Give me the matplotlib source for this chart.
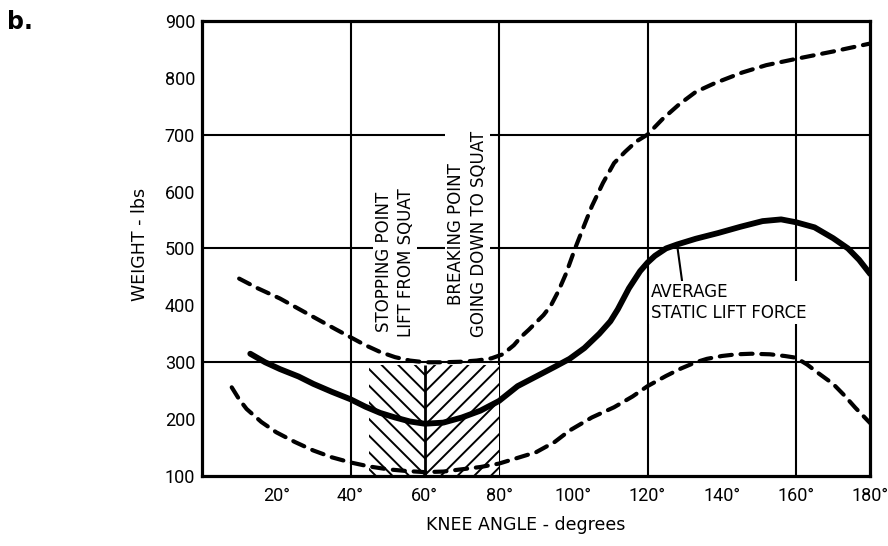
import matplotlib.pyplot as plt
from matplotlib.patches import Rectangle

# knee angle (deg) / weight (lbs)
upper_angle = [10, 15, 21, 26, 31, 36, 40, 44, 48, 52, 56, 60, 65, 70, 74, 78, 81, 84,
               86, 88, 90, 92, 94, 96, 98, 100.5, 102, 105, 108, 111, 114, 117, 120,
               124, 128.5, 133, 138, 145.5, 152, 160, 170, 180]
upper_weight = [447, 430, 412, 394, 376, 358, 344, 330, 318, 309, 303, 300, 300, 301, 303,
                307, 314, 330, 345, 357, 370, 383, 400, 425, 455, 500, 525, 574, 615, 650,
                670, 688, 700, 727, 753, 775, 790, 809, 822, 833, 846, 860]

avg_angle = [13, 17, 21, 26, 30, 35, 40, 44, 48, 52, 56, 60, 65, 70, 75, 80, 85, 90, 95,
             99, 103, 107, 110, 112, 115, 118, 120, 122, 125, 128, 133, 139, 145, 151,
             156, 160, 165, 170, 174, 177, 180]
avg_weight = [315, 300, 288, 275, 262, 248, 235, 222, 211, 203, 196, 192, 194, 203, 215,
              232, 258, 275, 292, 306, 325, 350, 372, 393, 430, 460, 475, 487, 500, 507,
              517, 527, 538, 548, 551, 546, 537, 518, 500, 480, 455]

lower_angle = [8, 10, 12, 16, 20, 25, 30, 35, 40, 45, 50, 55, 60, 65, 70, 75, 80, 85, 90,
               95, 99, 105, 111, 116, 120, 125, 129, 133, 136, 140, 144, 148, 153, 157,
               160, 163, 166, 170, 173, 176, 180]
lower_weight = [256, 235, 218, 195, 177, 160, 145, 133, 124, 117, 112, 109, 107, 108, 112,
                116, 122, 132, 142, 160, 180, 203, 221, 240, 258, 276, 289, 300, 306, 311,
                314, 315, 314, 311, 308, 296, 281, 262, 242, 220, 193]

# hatched zone: stopping point (lift) / breaking point (descent)
stop_range = [45, 60]
break_range = [60, 80]
zone_top = 295

x_ticks = [20, 40, 60, 80, 100, 120, 140, 160, 180]
x_labels = ["20°", "40°", "60°", "80°", "100°", "120°", "140°", "160°", "180°"]
y_ticks = [100, 200, 300, 400, 500, 600, 700, 800, 900]
grid_angles = [40, 80, 120, 160]
grid_weights = [300, 500, 700]

tick_font = ["Roboto", "DejaVu Sans"]

fig = plt.figure(figsize=(8.88, 5.46), dpi=100)
ax = fig.add_axes([0.2275, 0.128, 0.7525, 0.834])
ax.set_xlim(0, 180)
ax.set_ylim(100, 900)

for a in grid_angles:
    ax.axvline(a, color="black", lw=1.5, zorder=1)
for w in grid_weights:
    ax.axhline(w, color="black", lw=1.5, zorder=1)

for s in ax.spines.values():
    s.set_linewidth(2.3)

ax.set_xticks(x_ticks)
ax.set_xticklabels(x_labels, family=tick_font, fontsize=13)
ax.set_xticks([20, 60, 100, 140], minor=True)
ax.set_yticks(y_ticks)
ax.set_yticklabels([str(v) for v in y_ticks], family=tick_font, fontsize=13)
ax.set_yticks([200, 400, 600, 800], minor=True)
ax.tick_params(which="major", length=0)
ax.tick_params(axis="x", which="major", pad=8)
ax.tick_params(axis="y", which="major", pad=5)
ax.tick_params(which="minor", direction="in", length=11, width=1.5,
               top=True, right=True)

plt.rcParams["hatch.linewidth"] = 1.4
ax.add_patch(Rectangle((stop_range[0], 100), stop_range[1] - stop_range[0], zone_top - 100,
                       facecolor="white", edgecolor="black", lw=0, hatch="\\\\", zorder=2))
ax.add_patch(Rectangle((break_range[0], 100), break_range[1] - break_range[0], zone_top - 100,
                       facecolor="white", edgecolor="black", lw=0, hatch="//", zorder=2))
ax.vlines(stop_range[1], 100, zone_top, color="black", lw=2, zorder=2)

dash_kw = dict(color="black", lw=3, dashes=(2.9, 2.1), dash_capstyle="round", zorder=4)
ax.plot(upper_angle, upper_weight, **dash_kw)
ax.plot(lower_angle, lower_weight, **dash_kw)
ax.plot(avg_angle, avg_weight, color="black", lw=4.2, solid_capstyle="round",
        solid_joinstyle="round", zorder=5)

box = dict(facecolor="white", edgecolor="none", pad=1.5)
ax.text(52, 345, "STOPPING POINT\nLIFT FROM SQUAT", rotation=90, ha="center", va="bottom",
        fontsize=12, linespacing=1.3, bbox=box, zorder=3)
ax.text(71.5, 345, "BREAKING POINT\nGOING DOWN TO SQUAT", rotation=90, ha="center",
        va="bottom", fontsize=12, linespacing=1.3, bbox=box, zorder=3)

ax.annotate("AVERAGE\nSTATIC LIFT FORCE", xy=(128, 505), xytext=(121, 405),
            ha="left", va="center", fontsize=12, linespacing=1.25, bbox=box, zorder=3,
            arrowprops=dict(arrowstyle="-", lw=1.5, color="black", relpos=(0.2, 1.0),
                            shrinkA=0, shrinkB=2))

fig.text(526 / 888, 1 - 525 / 546, "KNEE ANGLE - degrees", ha="center", va="center",
         fontsize=12.5)
fig.text(140 / 888, 1 - 244 / 546, "WEIGHT - lbs", ha="center", va="center",
         rotation=90, fontsize=12.5)
fig.text(20 / 888, 1 - 22 / 546, "b.", ha="center", va="center", fontsize=17,
         fontweight="bold")

fig.savefig("out.png", dpi=100)
